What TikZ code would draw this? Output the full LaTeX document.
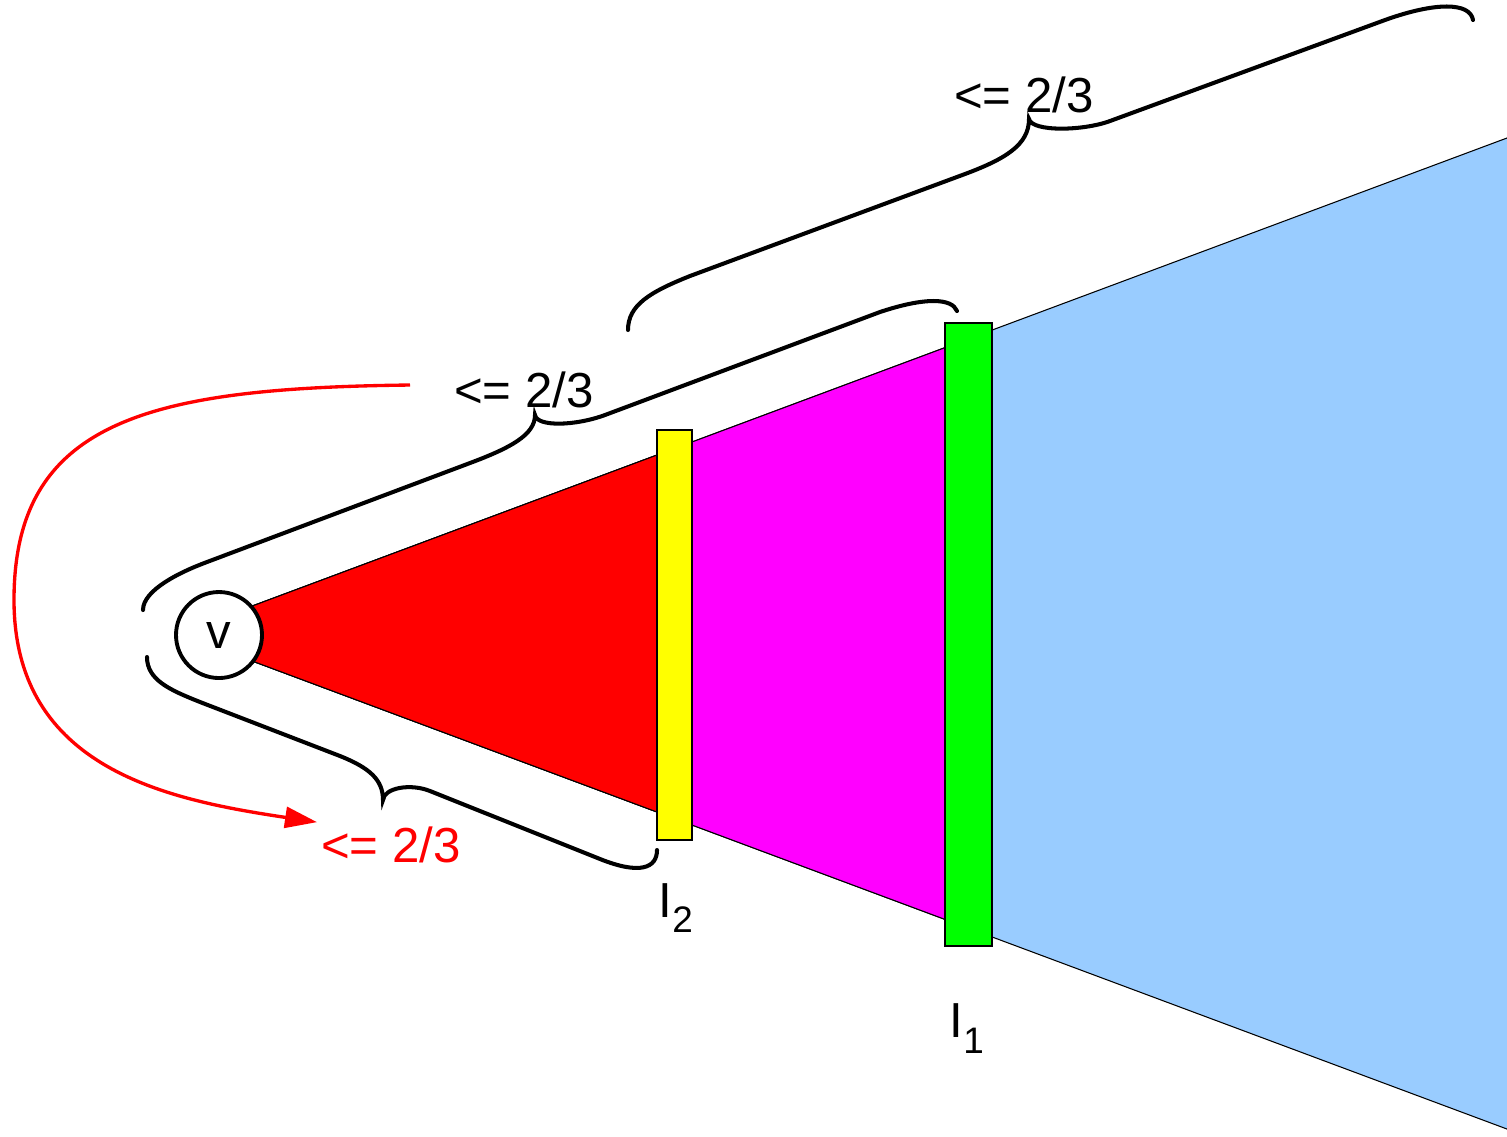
\documentclass[tikz,border=0pt]{standalone}
\usepackage{fontspec}
\setmainfont{Liberation Sans}
\usetikzlibrary{arrows.meta}
\definecolor{wedgeblue}{HTML}{99CCFF}
\definecolor{wedgemagenta}{HTML}{FF00FF}
\definecolor{wedgered}{HTML}{FF0000}
\definecolor{bandyellow}{HTML}{FFFF00}
\definecolor{bandgreen}{HTML}{00FF00}

\begin{document}
\begin{tikzpicture}[
        font=\fontsize{14}{16}\selectfont,
        layer/.style={draw=black, line width=0.3pt},
        band/.style={draw=black, line width=0.5pt},
        brace/.style={draw=black, line width=1.15pt, line cap=round},
        bound/.style={anchor=base west, inner sep=1pt},
        level/.style={anchor=base west, inner sep=0pt}
    ]
    \useasboundingbox (0,0) rectangle (15.07,-11.36);

    % ================= Wedge =================
    \filldraw[layer, fill=wedgeblue] (2.30,-6.143) -- (15.15,-1.35) -- (15.15,-11.32) -- (2.30,-6.527) -- cycle;
    \filldraw[layer, fill=wedgemagenta] (2.30,-6.143) -- (9.45,-3.476) -- (9.45,-9.194) -- (2.30,-6.527) -- cycle;
    \filldraw[layer, fill=wedgered] (2.30,-6.143) -- (6.57,-4.55) -- (6.57,-8.12) -- (2.30,-6.527) -- cycle;

    % Bands
    \filldraw[band, fill=bandyellow] (6.57,-4.30) rectangle (6.92,-8.40);
    \filldraw[band, fill=bandgreen] (9.45,-3.23) rectangle (9.92,-9.46);

    % Root
    \node[circle, draw, line width=1.1pt, fill=white, minimum size=0.86cm, inner sep=0pt] (v) at (2.19,-6.35) {v};

    % Level labels
    \node[level] (lvlTwo) at (6.58,-9.17) {I\raisebox{-1.5mm}{\fontsize{10.5}{12}\selectfont 2}};
    \node[level] (lvlOne) at (9.49,-10.37) {I\raisebox{-1.6mm}{\fontsize{10.5}{12}\selectfont 1}};

    % ================= Braces =================
    % lower brace
    \draw[brace] (1.47,-6.57) .. controls (1.47,-6.80) and (1.70,-6.90) .. (2.00,-7.02)
        -- (3.40,-7.56) .. controls (3.70,-7.68) and (3.83,-7.80) .. (3.83,-8.00)
        .. controls (3.84,-7.88) and (4.10,-7.83) .. (4.30,-7.91)
        -- (6.00,-8.59) .. controls (6.40,-8.75) and (6.57,-8.68) .. (6.57,-8.50);
    % middle brace
    \draw[brace] (1.43,-6.10) .. controls (1.43,-5.90) and (1.80,-5.72) .. (2.07,-5.62)
        -- (4.70,-4.63) .. controls (5.10,-4.48) and (5.35,-4.35) .. (5.35,-4.15)
        .. controls (5.37,-4.27) and (5.75,-4.26) .. (6.05,-4.15)
        -- (8.80,-3.12) .. controls (9.25,-2.97) and (9.52,-2.98) .. (9.57,-3.11);
    % top brace
    \draw[brace] (6.28,-3.30) .. controls (6.28,-3.05) and (6.50,-2.92) .. (6.90,-2.76)
        -- (9.65,-1.74) .. controls (10.05,-1.59) and (10.29,-1.45) .. (10.29,-1.19)
        .. controls (10.32,-1.32) and (10.83,-1.31) .. (11.10,-1.21)
        -- (13.85,-0.20) .. controls (14.35,-0.02) and (14.70,-0.02) .. (14.73,-0.20);

    % Bound labels
    \node[bound] (lblTop) at (9.50,-1.12) {<= 2/3};
    \node[bound] (lblMid) at (4.50,-4.07) {<= 2/3};
    \node[bound, text=wedgered] (lblRed) at (3.17,-8.62) {<= 2/3};

    % Red arrow
    \coordinate (redStart) at (4.10,-3.85);
    \draw[wedgered, line width=0.95pt, -{Triangle[length=3.2mm, width=2.1mm]}] (redStart)
        .. controls (1.50,-3.88) and (0.14,-4.20) .. (0.14,-6.00)
        .. controls (0.14,-7.70) and (1.70,-8.00) .. (lblRed.north west);

\end{tikzpicture}
\end{document}
